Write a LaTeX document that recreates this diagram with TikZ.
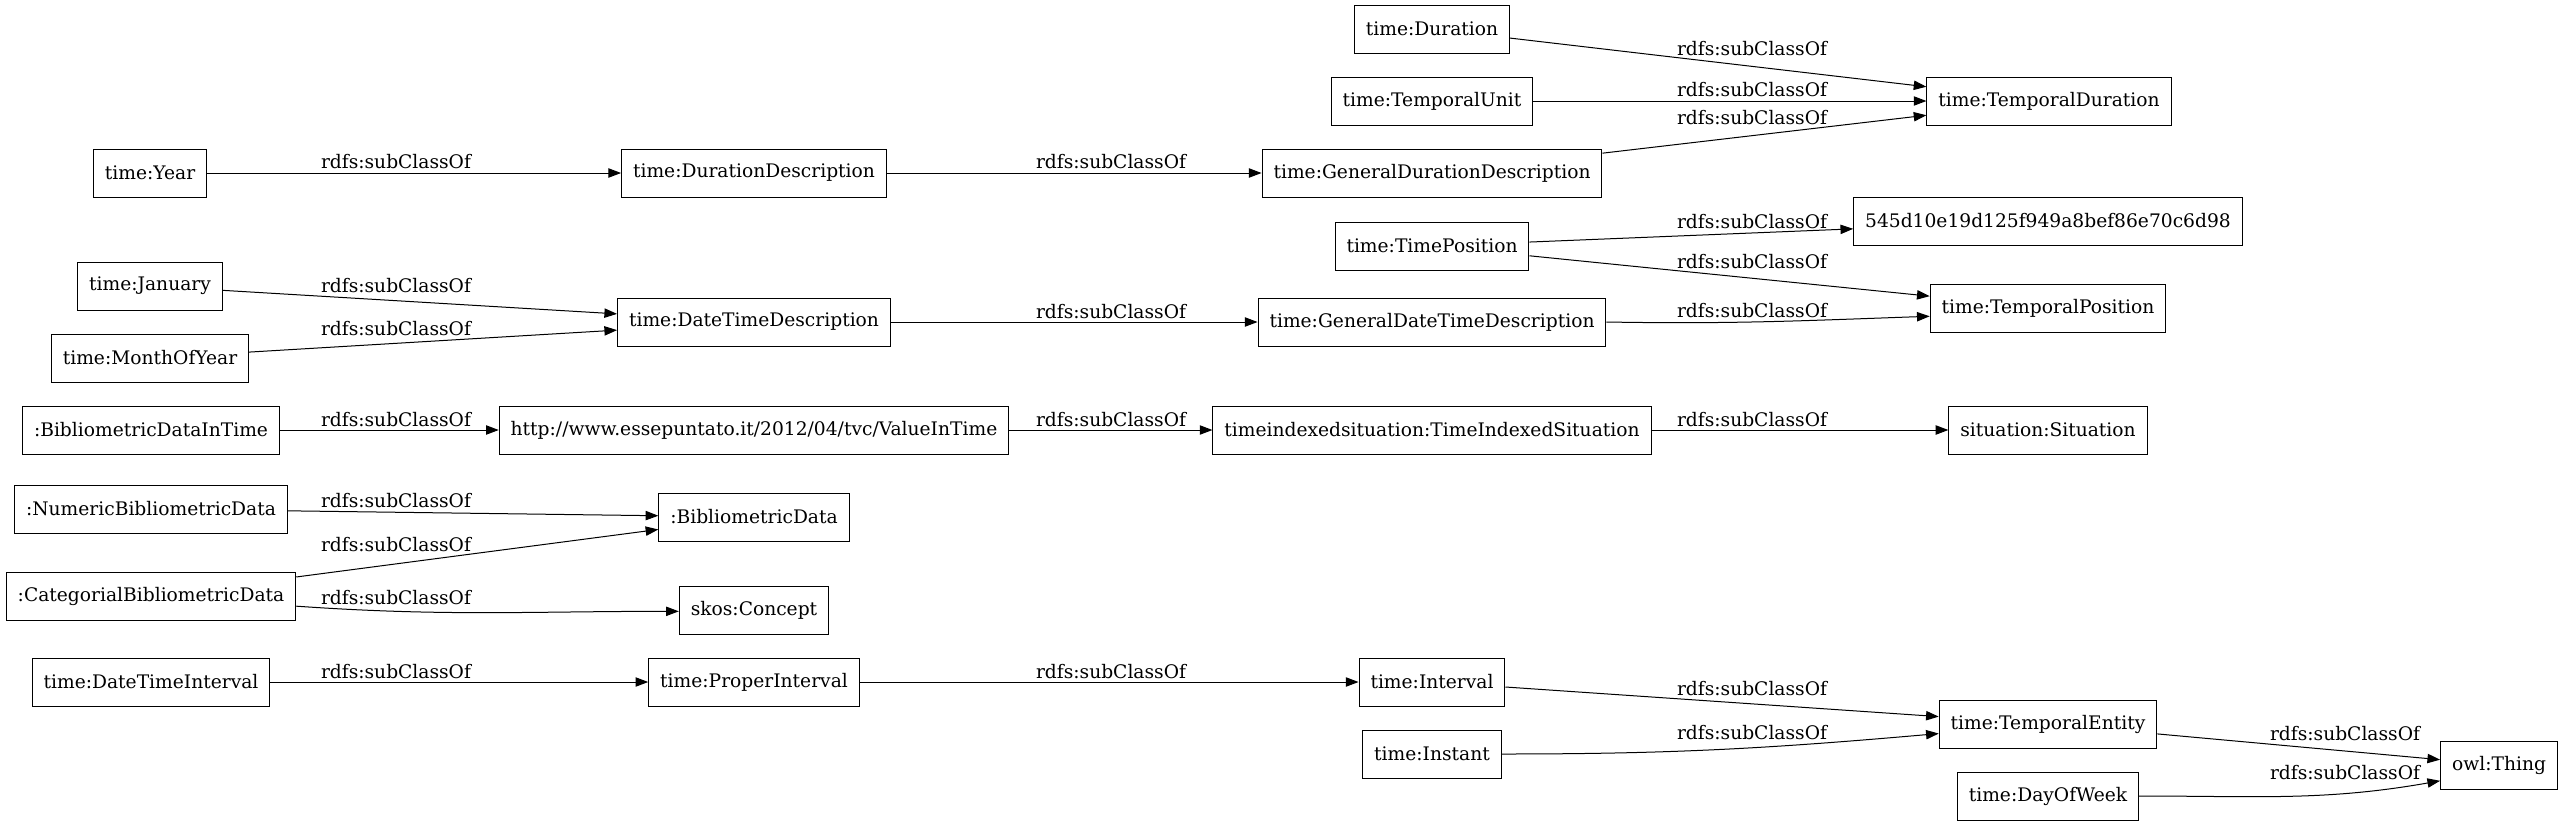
\documentclass[tikz,border=0pt]{standalone}
\usepackage{fontspec}
\setmainfont{DejaVu Serif}
\usepackage{tikz}
\usetikzlibrary{arrows.meta}

\begin{document}
\begin{tikzpicture}[
    x=0.75pt, y=-0.75pt,
    font=\fontsize{14pt}{17pt}\selectfont,
    cls/.style={rectangle,draw,line width=0.75pt,inner xsep=8.6pt,minimum height=36pt},
    subof/.style={-{Triangle[length=9.5pt,width=7pt]},line width=0.75pt},
    lbl/.style={anchor=base,inner sep=0pt}
]
\useasboundingbox (0,0) rectangle (2565,825);
\node[cls] (duration) at (1432,29) {time:Duration};
\node[cls] (tempunit) at (1432,101) {time:TemporalUnit};
\node[cls] (tempdur) at (2049,101) {time:TemporalDuration};
\node[cls] (year) at (150,173) {time:Year};
\node[cls] (durdesc) at (754,173) {time:DurationDescription};
\node[cls] (gendurdesc) at (1432,173) {time:GeneralDurationDescription};
\node[cls] (hash) at (2048,221) {545d10e19d125f949a8bef86e70c6d98};
\node[cls] (timepos) at (1432,246) {time:TimePosition};
\node[cls] (january) at (150,286) {time:January};
\node[cls] (temppos) at (2048,308) {time:TemporalPosition};
\node[cls] (dtdesc) at (754,322) {time:DateTimeDescription};
\node[cls] (gendtdesc) at (1432,322) {time:GeneralDateTimeDescription};
\node[cls] (monthofyear) at (150,358) {time:MonthOfYear};
\node[cls] (bdintime) at (151,430) {:BibliometricDataInTime};
\node[cls] (valueintime) at (754,430) {http://www.essepuntato.it/2012/04/tvc/ValueInTime};
\node[cls] (tisituation) at (1432,430) {timeindexedsituation:TimeIndexedSituation};
\node[cls] (situation) at (2048,430) {situation:Situation};
\node[cls] (numericbd) at (151,509) {:NumericBibliometricData};
\node[cls] (bibdata) at (754,517) {:BibliometricData};
\node[cls] (categbd) at (151,596) {:CategorialBibliometricData};
\node[cls] (skosconcept) at (754,610) {skos:Concept};
\node[cls] (dtinterval) at (151,682) {time:DateTimeInterval};
\node[cls] (properint) at (754,682) {time:ProperInterval};
\node[cls] (interval) at (1432,682) {time:Interval};
\node[cls] (tempentity) at (2048,724) {time:TemporalEntity};
\node[cls] (instant) at (1432,754) {time:Instant};
\node[cls] (owlthing) at (2499,765) {owl:Thing};
\node[cls] (dayofweek) at (2048,796) {time:DayOfWeek};

\draw[subof] (duration) -- (tempdur) node[lbl] at (1752,55) {rdfs:subClassOf};
\draw[subof] (tempunit) -- (tempdur) node[lbl] at (1752,96.7) {rdfs:subClassOf};
\draw[subof] (gendurdesc) -- (tempdur) node[lbl] at (1752,124) {rdfs:subClassOf};
\draw[subof] (year) -- (durdesc) node[lbl] at (396,168) {rdfs:subClassOf};
\draw[subof] (durdesc) -- (gendurdesc) node[lbl] at (1111,168) {rdfs:subClassOf};
\draw[subof] (timepos) -- (hash) node[lbl] at (1752,228) {rdfs:subClassOf};
\draw[subof] (timepos) -- (temppos) node[lbl] at (1752,268) {rdfs:subClassOf};
\draw[subof] (january) -- (dtdesc) node[lbl] at (396,292.7) {rdfs:subClassOf};
\draw[subof] (monthofyear) -- (dtdesc) node[lbl] at (396,335) {rdfs:subClassOf};
\draw[subof] (dtdesc) -- (gendtdesc) node[lbl] at (1111,318) {rdfs:subClassOf};
\draw[subof] (gendtdesc.east) to[out=-1,in=182] (temppos.184) node[lbl] at (1752,317) {rdfs:subClassOf};
\draw[subof] (bdintime) -- (valueintime) node[lbl] at (396,426.7) {rdfs:subClassOf};
\draw[subof] (valueintime) -- (tisituation) node[lbl] at (1111,426.7) {rdfs:subClassOf};
\draw[subof] (tisituation) -- (situation) node[lbl] at (1752,426.7) {rdfs:subClassOf};
\draw[subof] (numericbd) -- (bibdata) node[lbl] at (396,507) {rdfs:subClassOf};
\draw[subof] (categbd) -- (bibdata) node[lbl] at (396,551) {rdfs:subClassOf};
\draw[subof] (categbd.-4.7) to[out=-4,in=180] (skosconcept.181.5) node[lbl] at (396,604) {rdfs:subClassOf};
\draw[subof] (dtinterval) -- (properint) node[lbl] at (396,678) {rdfs:subClassOf};
\draw[subof] (properint) -- (interval) node[lbl] at (1111,678) {rdfs:subClassOf};
\draw[subof] (interval) -- (tempentity) node[lbl] at (1752,695) {rdfs:subClassOf};
\draw[subof] (instant.east) to[out=0,in=185] (tempentity.185.8) node[lbl] at (1752,739) {rdfs:subClassOf};
\draw[subof] (tempentity) -- (owlthing) node[lbl] at (2345,740) {rdfs:subClassOf};
\draw[subof] (dayofweek.east) to[out=0,in=190] (owlthing.195.5) node[lbl] at (2345,779) {rdfs:subClassOf};
\end{tikzpicture}
\end{document}
